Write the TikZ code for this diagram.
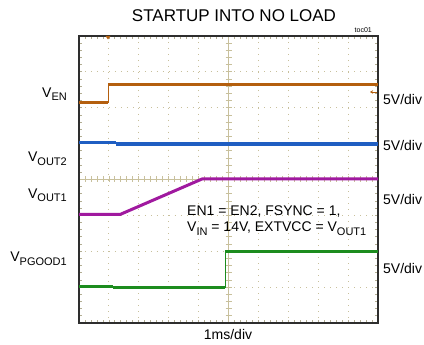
\documentclass[tikz,border=0pt]{standalone}
\usepackage{fontspec}
\setmainfont{Liberation Sans}
\usepackage{xcolor}
\usetikzlibrary{arrows.meta, positioning}
\definecolor{framegray}{HTML}{2E2E2E}
\definecolor{gridkhaki}{HTML}{C8C09C}
\definecolor{enorange}{HTML}{B45F0E}
\definecolor{outblue}{HTML}{1F5EC2}
\definecolor{outmagenta}{HTML}{A0199F}
\definecolor{pgoodgreen}{HTML}{1C8C1E}
\newcommand\lowsub[1]{\raisebox{-3.5pt}{\fontsize{11}{12}\selectfont #1}}

\tikzset{
  trace/.style={line width=3pt},
  edge/.style={line width=1pt},
  chlabel/.style={anchor=base east, inner sep=0pt, font=\fontsize{14}{16}\selectfont},
  scalelabel/.style={anchor=base west, inner sep=0pt, font=\fontsize{14}{16}\selectfont},
}

\begin{document}
\begin{tikzpicture}[x=1pt,y=-1pt]
  \useasboundingbox (0,0) rectangle (424,345);
  % Dotted graticule
  \foreach \i in {1,...,9}
    \draw[gridkhaki, line width=0.9pt, dash pattern=on 0.9pt off 5.08pt]
      ({79+\i*29.9},36) -- ({79+\i*29.9},323);
  \foreach \j in {1,...,7}
    \draw[gridkhaki, line width=0.9pt, dash pattern=on 0.9pt off 5.08pt]
      (79,{36+\j*35.875}) -- (378,{36+\j*35.875});
  % Minor ticks on the frame and the centre axes
  \foreach \k in {1,...,49} {
    \draw[gridkhaki!70!gray, line width=0.8pt] ({79+\k*5.98},36) -- ++(0,3);
    \draw[gridkhaki!70!gray, line width=0.8pt] ({79+\k*5.98},323) -- ++(0,-3);
    \draw[gridkhaki, line width=0.8pt] ({79+\k*5.98},176.5) -- ++(0,6);
  }
  \foreach \k in {1,...,39} {
    \draw[gridkhaki!70!gray, line width=0.8pt] (79,{36+\k*7.175}) -- ++(3,0);
    \draw[gridkhaki!70!gray, line width=0.8pt] (378,{36+\k*7.175}) -- ++(-3,0);
    \draw[gridkhaki, line width=0.8pt] (225.5,{36+\k*7.175}) -- ++(6,0);
  }
  \draw[gridkhaki, line width=0.9pt] (228.5,36) -- (228.5,323);
  \draw[gridkhaki, line width=0.9pt] (79,179.5) -- (378,179.5);
  % Frame
  \draw[framegray, line width=1.3pt] (79,36) rectangle (378,323);

  % V_EN trace
  \draw[enorange, trace] (79,103) -- (108,103);
  \draw[enorange, edge] (108,103) -- (108,85);
  \draw[enorange, trace] (108,85) -- (378,85);
  \fill[enorange] (105.5,36) -- (110.5,36) -- (108,39.5) -- cycle;
  \draw[enorange, line width=0.9pt, -{Stealth[length=3pt,width=3.5pt]}] (377,92) -- (370,92);
  % V_OUT2 trace
  \draw[outblue, line width=3.4pt] (79,142.5) -- (116,142.5);
  \draw[outblue, line width=3.4pt] (116,144) -- (378,144);
  % V_OUT1 trace
  \draw[outmagenta, trace, line join=round] (79,214.5) -- (120,214.5) -- (202,179) -- (378,179);
  % V_PGOOD1 trace
  \draw[pgoodgreen, trace] (79,286.5) -- (113,286.5);
  \draw[pgoodgreen, trace] (113,288) -- (225,288);
  \draw[pgoodgreen, edge] (225,288) -- (225,251.5);
  \draw[pgoodgreen, trace] (225,251.5) -- (378,251.5);

  % Titles and labels
  \node[anchor=base, inner sep=0pt, font=\fontsize{17}{19}\selectfont] (title) at (234,21.7) {STARTUP INTO NO LOAD};
  \node[anchor=base east, inner sep=0pt, font=\fontsize{7}{8}\selectfont] (toc) at (372,33) {toc01};
  \node[chlabel] (lblEN) at (67,97.3) {V\lowsub{EN}};
  \node[chlabel] (lblOUTtwo) at (67,161.7) {V\lowsub{OUT2}};
  \node[chlabel] (lblOUTone) at (67,198.3) {V\lowsub{OUT1}};
  \node[chlabel] (lblPGOOD) at (67,261.7) {V\lowsub{PGOOD1}};
  \node[scalelabel] (divEN) at (383,104.3) {5V/div};
  \node[scalelabel] (divOUTtwo) at (383,151) {5V/div};
  \node[scalelabel] (divOUTone) at (383,205) {5V/div};
  \node[scalelabel] (divPGOOD) at (383,273.3) {5V/div};
  \node[scalelabel] (condA) at (187,215) {EN1 = EN2, FSYNC = 1,};
  \node[scalelabel] (condB) at (187,231.7) {V\lowsub{IN} = 14V, EXTVCC = V\lowsub{OUT1}};
  \node[anchor=base, inner sep=0pt, font=\fontsize{14}{16}\selectfont] (timediv) at (228,339) {1ms/div};
\end{tikzpicture}
\end{document}
